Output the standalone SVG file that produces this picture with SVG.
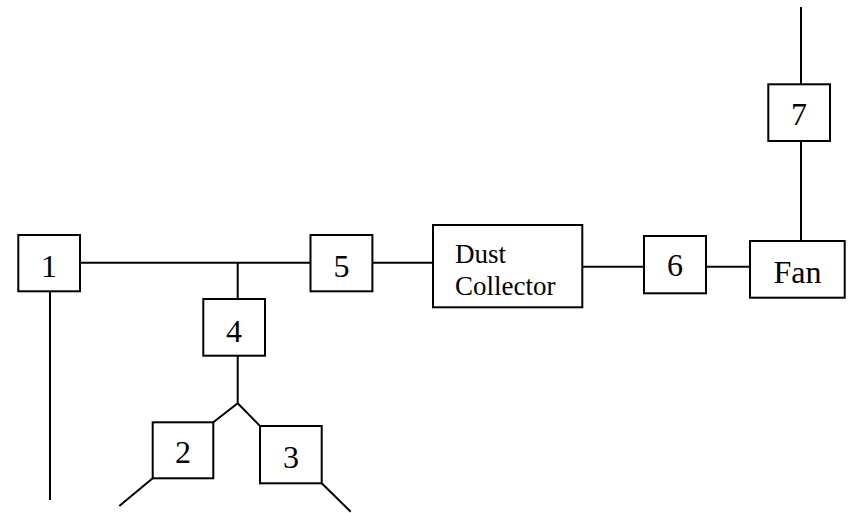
<svg xmlns="http://www.w3.org/2000/svg" width="848" height="513" viewBox="0 0 848 513">
<style>
.box{fill:#fff;stroke:#000;stroke-width:2}
.ln{fill:none;stroke:#000;stroke-width:2}
.t{font-family:"Liberation Serif","Times New Roman",serif;fill:#000;font-size:32px;text-anchor:middle}
.s{font-family:"Liberation Serif","Times New Roman",serif;fill:#000;font-size:27px}
</style>
<rect width="848" height="513" fill="#fff"/>
<g id="connectors">
<path class="ln" d="M80 262.7H310"/>
<path class="ln" d="M237.7 262.7V299"/>
<path class="ln" d="M50 291V500"/>
<path class="ln" d="M237.7 355.7V403.3L213.3 422.3"/>
<path class="ln" d="M237.7 403.3L260 426"/>
<path class="ln" d="M152.7 478.3L119.3 506"/>
<path class="ln" d="M321.7 483.3L350.7 511.7"/>
<path class="ln" d="M372.4 262.7H433"/>
<path class="ln" d="M582.3 266.7H644"/>
<path class="ln" d="M706 266.7H750"/>
<path class="ln" d="M801 241V141"/>
<path class="ln" d="M801 84V7"/>
</g>
<g id="n1"><rect class="box" x="18.3" y="235" width="61.7" height="56.3"/><text class="t" x="49" y="277">1</text></g>
<g id="n5"><rect class="box" x="310.5" y="235" width="61.9" height="56.3"/><text class="t" x="341.5" y="277">5</text></g>
<g id="n4"><rect class="box" x="203.3" y="299" width="61.7" height="56.7"/><text class="t" x="234" y="341.7">4</text></g>
<g id="n2"><rect class="box" x="152.7" y="422.3" width="60.6" height="56"/><text class="t" x="183" y="463.3">2</text></g>
<g id="n3"><rect class="box" x="260" y="426" width="61.7" height="57.3"/><text class="t" x="291" y="468">3</text></g>
<g id="dust"><rect class="box" x="433" y="225" width="149.3" height="82.3"/><text class="s" x="455" y="263.3">Dust</text><text class="s" x="455" y="295">Collector</text></g>
<g id="n6"><rect class="box" x="644" y="236" width="62" height="57.3"/><text class="t" x="675" y="276">6</text></g>
<g id="fan"><rect class="box" x="750" y="241" width="94.7" height="56.7"/><text class="t" x="797.5" y="282.7">Fan</text></g>
<g id="n7"><rect class="box" x="768.3" y="84.3" width="61.7" height="56.7"/><text class="t" x="799" y="125">7</text></g>
</svg>
